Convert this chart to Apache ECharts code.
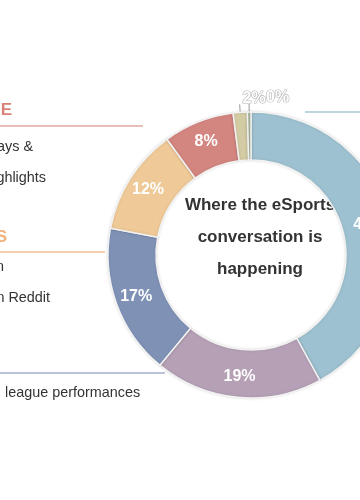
<!DOCTYPE html>
<html><head><meta charset="utf-8">
<script src="https://cdn.jsdelivr.net/npm/echarts@6/dist/echarts.min.js"></script>
<style>html,body{margin:0;padding:0;background:#fff}#c{width:360px;height:500px}</style>
</head><body><div id="c"></div>
<script>
var categories = ['News & blogs','Twitter','Forums','YouTube','Facebook','Other sites','Twitch'];
var shares = [42, 19, 17, 12, 8, 1.6, 0.4];
var sliceColors = ['#9dc1d0','#b5a0b6','#7f92b6','#efca98','#d3857f','#d3cba3','#a4b39a'];
var centerLines = ['Where the eSports','conversation is','happening'];
var groupHeaders = ['YOUTUBE','FORUMS','TWITTER'];
var groupRows = [['Replays &','Highlights'],['Fan discussion','threads on Reddit'],['league performances']];
var groupRowPrefix = 'Reactions to';

var chart = echarts.init(document.getElementById('c'), null, {renderer:'canvas'});
var font = 'Liberation Sans, Arial, sans-serif';
var data = categories.map(function(n,i){
  var d = {name:n, value:shares[i], itemStyle:{color:sliceColors[i]}};
  if (shares[i] < 3) {
    d.label = {position:'outside', color:'#fff', textBorderColor:'#b5b5b5', textBorderWidth:1.2, fontSize:16, fontWeight:'bold'};
    d.labelLine = {show:true, length:8, length2:0, lineStyle:{color:'#999', width:1}};
  }
  return d;
});
var g = [];
centerLines.forEach(function(t,i){
  g.push({type:'text', z:0, style:{text:t, x:260, y:205+i*32, textAlign:'center', textVerticalAlign:'middle', font:'bold 17px '+font, fill:'#333'}});
});
function txt(t,x,y,opt){ var s={text:t,x:x,y:y,textAlign:opt.align||'left',textVerticalAlign:'middle',font:opt.font,fill:opt.fill}; return {type:'text', z:0, style:s}; }
function line(x1,y1,x2,y2,c){ return {type:'line', z:0, shape:{x1:x1,y1:y1,x2:x2,y2:y2}, style:{stroke:c,lineWidth:1.5}}; }
var rowFont = '14.4px '+font;
g.push(txt(groupHeaders[0],12,110,{align:'right',font:'bold 17px '+font,fill:'#d9827a'}));
g.push(line(0,126,143,126,'#e2a7a1'));
g.push(txt(groupRows[0][0],33,147,{align:'right',font:rowFont,fill:'#333'}));
g.push(txt(groupRows[0][1],46,178,{align:'right',font:rowFont,fill:'#333'}));
g.push(txt(groupHeaders[1],7,237,{align:'right',font:'bold 17px '+font,fill:'#f1b07a'}));
g.push(line(0,252,105,252,'#f4c196'));
g.push(txt(groupRows[1][0],4,267,{align:'right',font:rowFont,fill:'#333'}));
g.push(txt(groupRows[1][1],50,298,{align:'right',font:rowFont,fill:'#333'}));
g.push(txt(groupHeaders[2],-20,358,{align:'right',font:'bold 17px '+font,fill:'#7f92b6'}));
g.push(line(0,373,165,373,'#a3afca'));
g.push(txt(groupRowPrefix,-2,393,{align:'right',font:rowFont,fill:'#333'}));
g.push(txt(groupRows[2][0],5,393,{align:'left',font:rowFont,fill:'#333'}));
g.push(line(305,112,360,112,'#a9c8d6'));

chart.setOption({
  animation:false,
  graphic: g,
  series:[{
    type:'pie', z:2, center:[251,255], radius:[95,143], startAngle:90, clockwise:true,
    avoidLabelOverlap:false,
    labelLayout:function(p){
      if (p.dataIndex===5) return {hideOverlap:false, dx:31, dy:-6};
      if (p.dataIndex===6) return {hideOverlap:false, dx:45, dy:-6};
      return {hideOverlap:false};
    },
    itemStyle:{borderColor:'#f2f2f2', borderWidth:1.5, shadowBlur:3, shadowColor:'rgba(0,0,0,0.12)'},
    label:{show:true, position:'inside', color:'#fff', fontSize:16, fontWeight:'bold', fontFamily:font,
      formatter:function(p){return Math.round(p.value)+'%';}},
    emphasis:{disabled:true},
    data:data
  }]
});
</script></body></html>
